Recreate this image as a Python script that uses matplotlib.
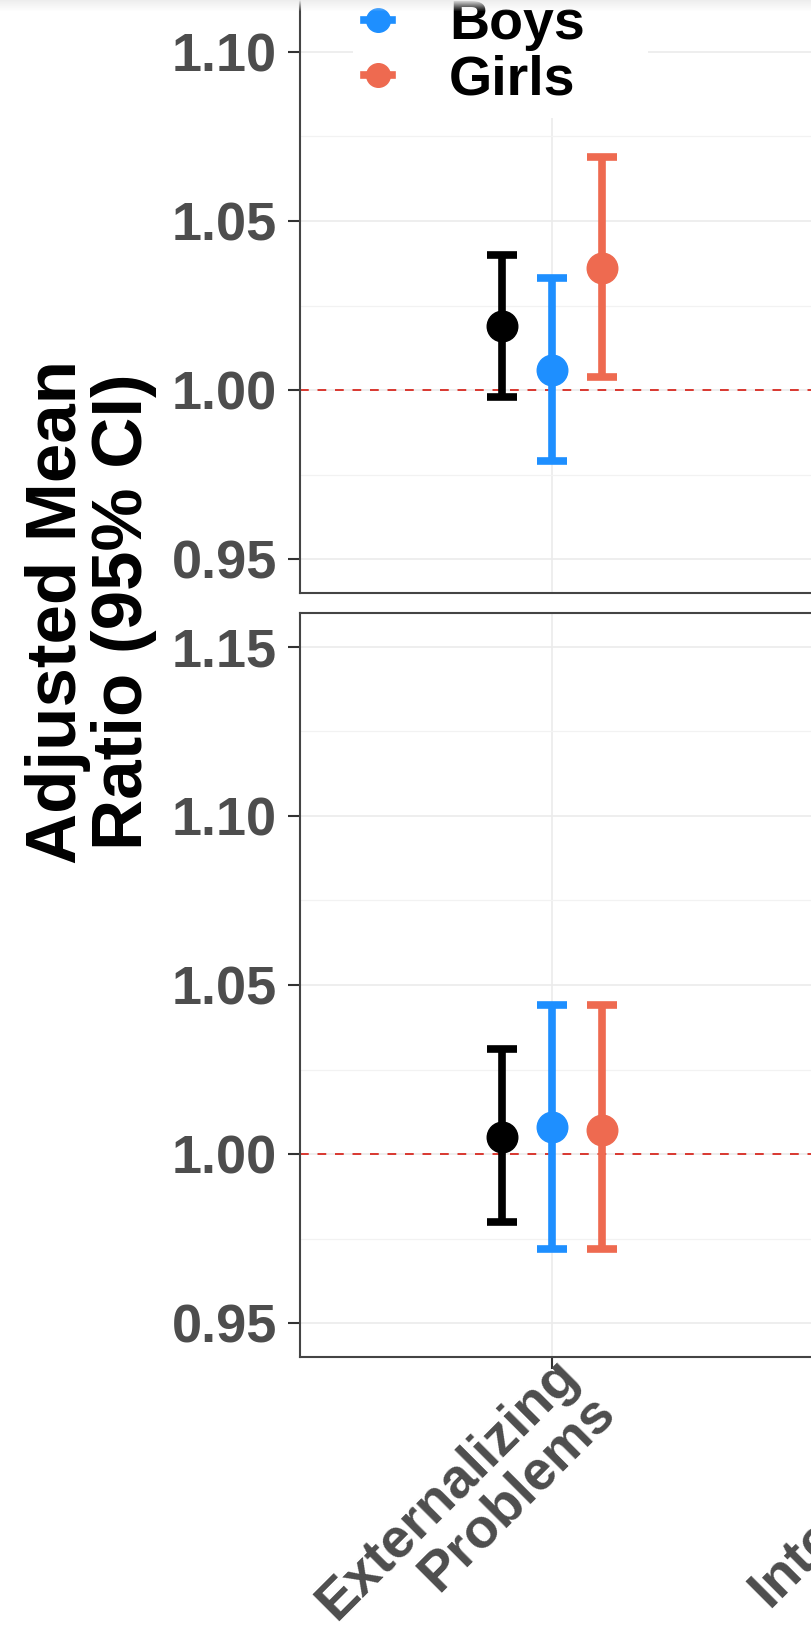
import matplotlib
matplotlib.use('agg')

import matplotlib.pyplot as plt
import matplotlib.transforms as mtransforms
import numpy as np
from matplotlib.lines import Line2D
from matplotlib.ticker import MultipleLocator

plt.rcParams['font.family'] = ['Liberation Sans', 'DejaVu Sans']

# ---- data ----
categories = ['Externalizing\nProblems', 'Internalizing\nProblems']
groups = ['Overall', 'Boys', 'Girls']
group_colors = ['#000000', '#1E8FFF', '#EE6A50']
dodge = [-0.12, 0.0, 0.12]

# top panel, Externalizing Problems
top_est = [1.019, 1.006, 1.036]
top_lo = [0.998, 0.979, 1.004]
top_hi = [1.040, 1.033, 1.069]

# bottom panel, Externalizing Problems
bot_est = [1.005, 1.008, 1.007]
bot_lo = [0.980, 0.972, 0.972]
bot_hi = [1.031, 1.044, 1.044]

y_ticks = [0.95, 1.00, 1.05, 1.10, 1.15]

W, H = 812, 1636
fig = plt.figure(figsize=(W / 100, H / 100), dpi=100)


def px_axes(left, top, width, height):
    return fig.add_axes([left / W, 1 - (top + height) / H, width / W, height / H])


ax_top = px_axes(300, -151, 924, 744)
ax_bot = px_axes(300, 613, 924, 744)

for ax, est, lo, hi in [(ax_top, top_est, top_lo, top_hi), (ax_bot, bot_est, bot_lo, bot_hi)]:
    ax.set_xlim(0.4, len(categories) + 0.6)
    ax.set_ylim(0.94, 1.16)
    ax.set_yticks(y_ticks)
    ax.set_yticklabels(['%.2f' % v for v in y_ticks])
    ax.yaxis.set_minor_locator(MultipleLocator(0.025))
    ax.set_xticks(range(1, len(categories) + 1))
    ax.grid(which='major', color='#EBEBEB', lw=1.2)
    ax.grid(which='minor', axis='y', color='#F2F2F2', lw=0.9)
    ax.set_axisbelow(True)

    ax.axhline(1.0, color='#D9382F', lw=1.4, ls=(0, (4.5, 4.5)), zorder=1.5)

    for i in range(len(groups)):
        ax.errorbar(1 + dodge[i], est[i],
                    yerr=[[est[i] - lo[i]], [hi[i] - est[i]]],
                    fmt='o', color=group_colors[i], ms=22,
                    elinewidth=5.5, capsize=11, capthick=5.5, zorder=3)

    for s in ax.spines.values():
        s.set_color('#444444')
        s.set_linewidth(1.5)
    ax.tick_params(axis='y', which='major', length=8.5, width=1.5, color='#333333',
                   labelsize=39, labelcolor='#4D4D4D', pad=8)
    ax.tick_params(which='minor', length=0)
    for lab in ax.get_yticklabels():
        lab.set_fontweight('bold')

ax_top.tick_params(axis='x', length=0, labelbottom=False)
ax_bot.tick_params(axis='x', length=8.5, width=1.5, color='#333333', pad=0)
ax_bot.set_xticklabels(categories, rotation=45, ha='right', va='top',
                       rotation_mode='anchor', multialignment='right',
                       fontsize=40, fontweight='bold', color='#4D4D4D',
                       linespacing=1.0)
shift = mtransforms.ScaledTranslation(0, 20 / 100, fig.dpi_scale_trans)
for lab in ax_bot.get_xticklabels():
    lab.set_transform(lab.get_transform() + shift)

# y axis title
fig.text(91 / W, 1 - 612 / H, 'Adjusted Mean\nRatio (95% CI)', rotation=90,
         ha='center', va='center', multialignment='center',
         fontsize=51, fontweight='bold', color='black', linespacing=1.0)

# legend
handles = [Line2D([0], [0], color=c, lw=5.5, marker='o', ms=17) for c in group_colors]
fig.legend(handles, groups, loc='lower left', bbox_to_anchor=(353 / W, 1 - 118 / H),
           borderaxespad=0, borderpad=0.2, frameon=True, facecolor='white',
           edgecolor='none', framealpha=1, handlelength=0.5, handletextpad=1.03,
           labelspacing=0.07, prop={'size': 40, 'weight': 'bold'})

# grey shading along the top edge of the screenshot
band = fig.add_axes([0, 1 - 12 / H, 1, 12 / H], zorder=10)
shade = np.zeros((12, 1, 4))
shade[..., :3] = 0.93
shade[..., 3] = np.linspace(0.95, 0.0, 12)[:, None]
band.imshow(shade, aspect='auto', extent=(0, 1, 0, 1))
band.axis('off')

fig.savefig('out.png', dpi=100)
